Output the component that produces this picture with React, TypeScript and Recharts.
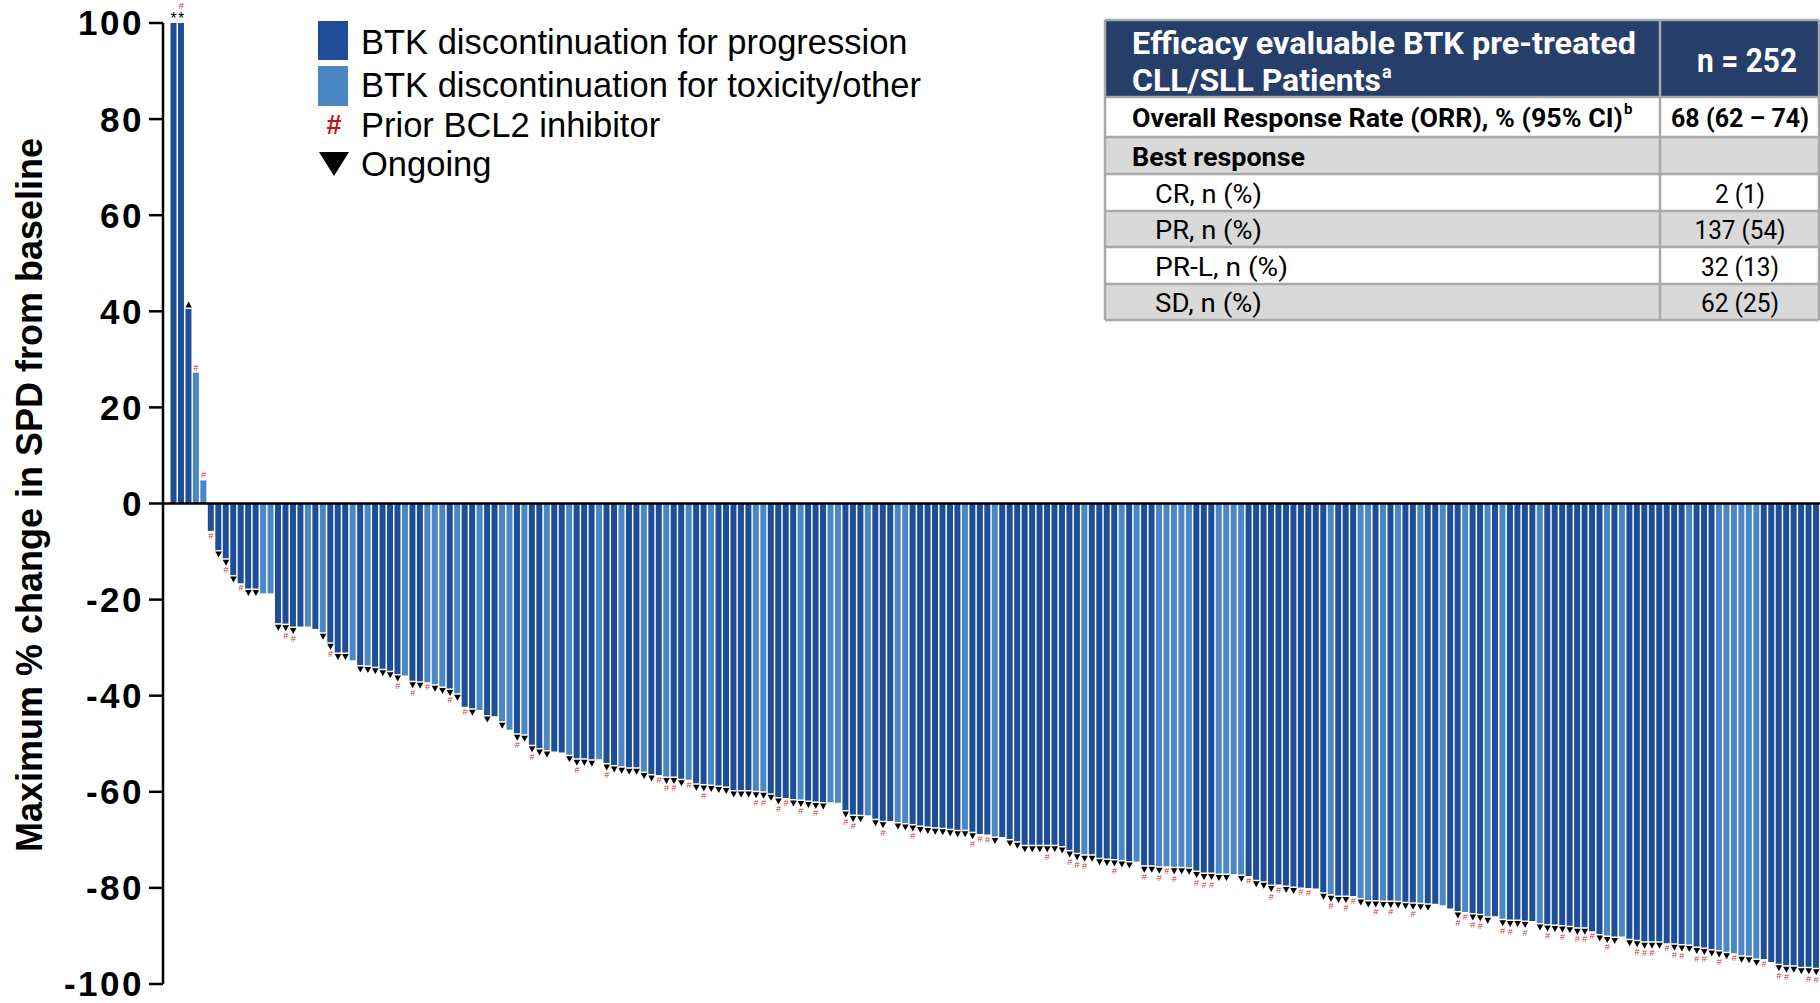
import React from "react";
import {
  ComposedChart,
  Bar,
  Cell,
  Scatter,
  XAxis,
  YAxis,
  ReferenceLine,
  Legend,
  Label,
} from "recharts";

// maximum % change in SPD from baseline, one value per patient (sorted, capped at 100)
const change = [
  100, 100, 40.5, 27.2, 4.8, -5.7, -9.7, -11.4, -14.9, -16.6,
  -17.7, -17.7, -18.7, -18.7, -24.9, -25.0, -25.6, -25.6, -25.6, -26.1,
  -26.8, -28.9, -31.0, -31.0, -32.6, -33.6, -33.7, -34.0, -34.4, -34.8,
  -35.5, -35.8, -36.9, -37.0, -37.2, -37.6, -38.1, -38.5, -39.5, -42.3,
  -42.6, -43.0, -44.0, -44.3, -45.3, -47.1, -47.8, -48.0, -50.2, -50.9,
  -51.3, -51.6, -51.8, -52.3, -53.0, -53.0, -53.2, -53.2, -54.0, -54.4,
  -54.7, -54.9, -54.9, -55.8, -56.3, -56.5, -56.8, -56.8, -57.3, -57.5,
  -58.2, -58.4, -58.5, -58.7, -58.9, -59.6, -59.6, -59.6, -59.8, -59.9,
  -60.3, -61.1, -61.3, -61.5, -61.6, -61.8, -62.0, -62.1, -62.2, -62.3,
  -63.8, -64.7, -64.8, -64.9, -65.6, -66.0, -66.1, -66.3, -66.5, -66.7,
  -67.0, -67.2, -67.4, -67.5, -67.7, -67.9, -67.9, -68.3, -68.8, -68.9,
  -69.3, -69.4, -69.8, -70.3, -71.0, -71.0, -71.0, -71.0, -71.0, -71.3,
  -72.1, -72.7, -73.0, -73.0, -73.7, -73.9, -74.0, -74.2, -74.4, -74.5,
  -75.3, -75.3, -75.5, -75.5, -75.6, -75.6, -75.7, -76.4, -76.8, -76.8,
  -77.0, -77.0, -77.1, -77.2, -77.5, -78.3, -78.6, -79.3, -79.3, -79.5,
  -79.7, -79.9, -80.0, -80.1, -80.9, -81.3, -81.6, -81.6, -81.7, -82.1,
  -82.5, -82.5, -82.6, -82.6, -82.7, -82.9, -83.0, -83.1, -83.2, -83.3,
  -83.6, -84.3, -84.8, -85.0, -85.2, -85.4, -85.9, -85.9, -86.4, -86.6,
  -86.6, -86.8, -86.9, -87.3, -87.5, -87.6, -87.7, -87.9, -88.2, -88.2,
  -89.0, -89.6, -89.9, -90.1, -90.1, -90.6, -90.8, -91.1, -91.1, -91.1,
  -91.5, -91.5, -91.7, -91.8, -92.2, -92.4, -92.7, -92.9, -93.3, -93.6,
  -94.0, -94.1, -94.7, -94.8, -95.4, -95.8, -96.1, -96.1, -96.4, -96.4,
  -96.6,
];

// reason for BTK discontinuation: P = progression, T = toxicity/other
const reason = (
  "PPPTTPPPPP PPTTPPPPTP TPPPTPTPPP PTPPTTTPTP PTPPTTPTPP TPPTPPPTPP " +
  "TPPTPPTPPT PPTPPPPPTT PPPPTPPPTT PPPTPPPTTP PPPPPPTPPP TPPPPPPPPP " +
  "PPTPPPPTPT PPTTTTTPPP TTTTPPPPPP PPPPPTPPPT TPTPTPPTPP TPPTPPTPTP " +
  "PPPTPPPPPP PPTPTPPPPP PPPTPPPTTT TTTPPPPPPP P"
).replace(/ /g, "").split("");

// 1 = treatment ongoing
const ongoing = (
  "0010001110 1100111000 1111011111 1011011110 1010101111 1001111011 " +
  "1111101110 1111111111 1101111100 1110110111 1111111100 1011111111 " +
  "1111111110 1110111111 1101011101 1000111101 1111111110 0010111011 " +
  "1101111111 0111011111 0111111110 1110011111 1"
).replace(/ /g, "").split("");

// 1 = prior BCL2 inhibitor
const priorBcl2 = (
  "0101110101 0000011000 0100000000 1010100101 0000001010 0000100010 " +
  "0000011101 0100000011 0110101000 1100010001 0000000111 0000000100 " +
  "1110001000 1011100111 0000100110 0110010110 0101001000 0011110011 " +
  "0100101011 1010001110 1110110101 0001011001 1"
).replace(/ /g, "").split("");

const yTicks = [100, 80, 60, 40, 20, 0, -20, -40, -60, -80, -100];

const legendLabels = [
  "BTK discontinuation for progression",
  "BTK discontinuation for toxicity/other",
  "Prior BCL2 inhibitor",
  "Ongoing",
];

const tableHead = ["Efficacy evaluable BTK pre-treated", "CLL/SLL Patients", "n = 252"];
const rowLabels = [
  "Overall Response Rate (ORR), % (95% CI)",
  "Best response",
  "CR, n (%)",
  "PR, n (%)",
  "PR-L, n (%)",
  "SD, n (%)",
];
const rowValues = ["68 (62 – 74)", "", "2 (1)", "137 (54)", "32 (13)", "62 (25)"];

const DARK = "#1e4e97";
const LIGHT = "#4b87c5";
const RED = "#c0141c";
const NAVY = "#263e6a";
const GRID = "#a9a9a9";
const SHADE = "#d9d9d9";
const ARIAL = "'Liberation Sans', Arial, Helvetica, sans-serif";
const COND = "Roboto, 'Liberation Sans', Arial, sans-serif";

const data = change.map((v, i) => ({
  id: i + 1,
  change: v,
  reason: reason[i],
  ongoing: ongoing[i] === "1",
  bcl2: priorBcl2[i] === "1",
}));

const Marker = (props: any) => {
  const { cx, cy, payload } = props;
  if (cx == null || cy == null) return <g />;
  const dir = payload.change > 0 ? -1 : 1;
  const parts: React.ReactNode[] = [];
  let y = cy + dir * 1.5;
  if (payload.change >= 100) {
    parts.push(
      <text key="s" x={cx} y={cy + 1} textAnchor="middle" fontSize={16} fontFamily={ARIAL} fill="#000">
        *
      </text>
    );
    y -= 12;
  }
  if (payload.ongoing) {
    const tip = y + dir * 6;
    parts.push(<path key="t" d={`M${cx - 3.3},${y}L${cx + 3.3},${y}L${cx},${tip}Z`} fill="#000" />);
    y = tip + dir;
  }
  if (payload.bcl2) {
    parts.push(
      <text key="h" x={cx} y={y + dir * 3.5} textAnchor="middle" dominantBaseline="central"
        fontSize={9} fontFamily={ARIAL} fill="#c83a3a">
        #
      </text>
    );
  }
  return <g>{parts}</g>;
};

const LegendBox = () => {
  const text = (top: number, label: string) => (
    <div style={{ position: "absolute", left: 43, top: top - 17, whiteSpace: "nowrap" }}>{label}</div>
  );
  return (
    <div style={{ position: "relative", width: 620, height: 170, fontFamily: ARIAL, fontSize: 34.5, lineHeight: 1, color: "#000" }}>
      <div style={{ position: "absolute", left: 0, top: 3, width: 30, height: 39, background: DARK }} />
      {text(24, legendLabels[0])}
      <div style={{ position: "absolute", left: 0, top: 48, width: 30, height: 40, background: LIGHT }} />
      {text(67, legendLabels[1])}
      <div style={{ position: "absolute", left: 0, width: 32, top: 94, textAlign: "center", color: RED, fontWeight: 700, fontSize: 27 }}>#</div>
      {text(107, legendLabels[2])}
      <svg style={{ position: "absolute", left: 1, top: 134 }} width={30} height={24}>
        <path d="M0,0L30,0L15,24Z" fill="#000" />
      </svg>
      {text(146, legendLabels[3])}
    </div>
  );
};

const YTitle = () => (
  <text x={29} y={495} transform="rotate(-90 29 495)" textAnchor="middle" dominantBaseline="central"
    fontFamily={ARIAL} fontWeight={700} fontSize={36} fill="#000">
    Maximum % change in SPD from baseline
  </text>
);

// response table drawn as an overlay
const ResponseTable = () => {
  const left = 1105, right = 1819, split = 1660, textX = 1132, indentX = 1155, valueX = 1740;
  const edges = [20, 97, 137, 174, 211, 247, 284, 320];
  const labelW = [491, 173, 107, 107, 133, 107];
  const valueW = [138, 0, 50, 91, 78, 78];
  return (
    <svg style={{ position: "absolute", left: 0, top: 0, pointerEvents: "none" }} width={1820} height={1003}>
      <rect x={left} y={edges[0]} width={right - left} height={edges[1] - edges[0]} fill={NAVY} />
      {rowLabels.map((lab, r) => {
        const y0 = edges[r + 1], y1 = edges[r + 2];
        const cy = (y0 + y1) / 2 + 1;
        const bold = r < 2;
        return (
          <g key={lab}>
            <rect x={left} y={y0} width={right - left} height={y1 - y0} fill={r % 2 ? SHADE : "#fff"} />
            <text x={r < 2 ? textX : indentX} y={cy} dominantBaseline="central" fontFamily={COND}
              fontWeight={bold ? 700 : 400} fontSize={26} fill="#000" textLength={labelW[r]} lengthAdjust="spacingAndGlyphs">
              {lab}
            </text>
            {rowValues[r] && (
              <text x={valueX} y={cy} textAnchor="middle" dominantBaseline="central" fontFamily={COND}
                fontWeight={bold ? 700 : 400} fontSize={26} fill="#000" textLength={valueW[r]} lengthAdjust="spacingAndGlyphs">
                {rowValues[r]}
              </text>
            )}
          </g>
        );
      })}
      <text x={1624} y={109} dominantBaseline="central" fontFamily={COND} fontWeight={700} fontSize={15} fill="#000">b</text>
      <text x={textX} y={43} dominantBaseline="central" fontFamily={COND} fontWeight={700} fontSize={31} fill="#fff"
        textLength={504} lengthAdjust="spacingAndGlyphs">{tableHead[0]}</text>
      <text x={textX} y={80} dominantBaseline="central" fontFamily={COND} fontWeight={700} fontSize={31} fill="#fff"
        textLength={249} lengthAdjust="spacingAndGlyphs">{tableHead[1]}</text>
      <text x={1382} y={71} dominantBaseline="central" fontFamily={COND} fontWeight={700} fontSize={18} fill="#fff">a</text>
      <text x={1747} y={60} textAnchor="middle" dominantBaseline="central" fontFamily={COND} fontWeight={700} fontSize={33}
        fill="#fff" textLength={100} lengthAdjust="spacingAndGlyphs">{tableHead[2]}</text>
      {edges.map((y) => (
        <line key={y} x1={left} x2={right} y1={y} y2={y} stroke={GRID} strokeWidth={2.5} />
      ))}
      {[left, split, right].map((x) => (
        <line key={x} x1={x} x2={x} y1={edges[0]} y2={edges[edges.length - 1]} stroke={GRID} strokeWidth={2.5} />
      ))}
    </svg>
  );
};

export default function App() {
  return (
    <div style={{ position: "relative", width: 1820, height: 1003, overflow: "hidden", background: "#fff" }}>
      <style>{"body{margin:0}"}</style>
      <ComposedChart width={1820} height={1003} data={data}
        margin={{ top: 23, right: 0, bottom: 19, left: 0 }} barCategoryGap={0.5}>
        <XAxis dataKey="id" hide padding={{ left: 7, right: 0 }} />
        <YAxis
          width={163}
          domain={[-100, 100]}
          ticks={yTicks}
          interval={0}
          tickSize={14}
          tickMargin={5}
          axisLine={{ stroke: "#000", strokeWidth: 2.5 }}
          tickLine={{ stroke: "#000", strokeWidth: 2.5 }}
          tick={{ fill: "#000", fontSize: 35, fontWeight: 700, fontFamily: ARIAL, letterSpacing: 2.5 }}
          label={<Label content={() => <YTitle />} />}
        />
        <Bar dataKey="change" isAnimationActive={false}>
          {data.map((d) => (
            <Cell key={d.id} fill={d.reason === "P" ? DARK : LIGHT} />
          ))}
        </Bar>
        <ReferenceLine y={0} stroke="#000" strokeWidth={2.5} />
        <Scatter dataKey="change" isAnimationActive={false} shape={Marker} />
        <Legend layout="vertical" align="center" verticalAlign="middle"
          wrapperStyle={{ left: 318, top: 18, width: 620, height: 170 }} content={() => <LegendBox />} />
      </ComposedChart>
      <ResponseTable />
    </div>
  );
}
